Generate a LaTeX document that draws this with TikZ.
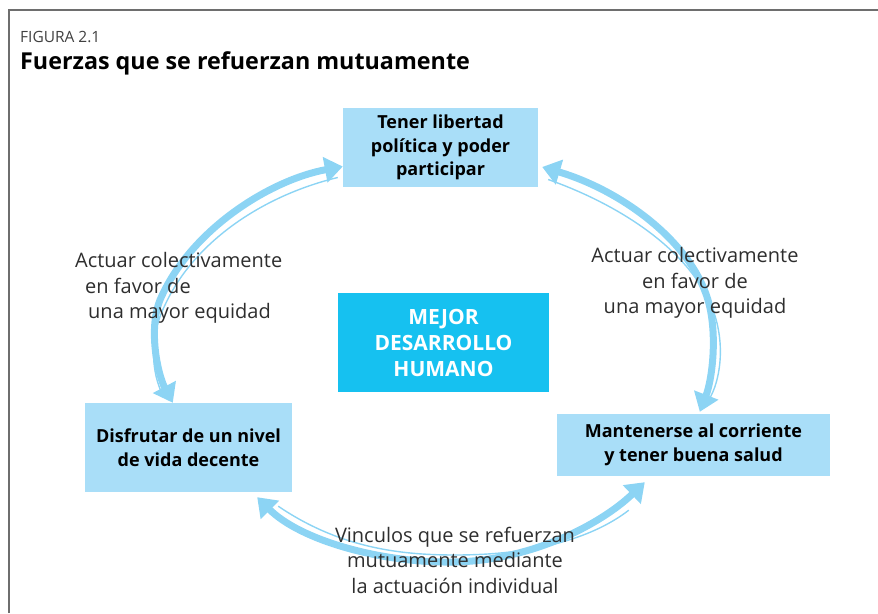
\documentclass[tikz,border=0pt]{standalone}
\usepackage{fontspec}
\setmainfont{Open Sans}
\usetikzlibrary{arrows.meta,calc}
\definecolor{boxlight}{HTML}{A9DEF8}
\definecolor{boxdark}{HTML}{16C1F0}
\definecolor{arrowc}{HTML}{8CD4F4}
\definecolor{framec}{HTML}{6E6E6E}
\definecolor{txt}{HTML}{2E2E2E}
\begin{document}
\begin{tikzpicture}[x=1pt,y=-1pt,
  lightbox/.style={fill=boxlight, draw=none, inner sep=0pt, align=center,
    font=\fontsize{18}{23.5}\selectfont\bfseries, text=black},
  darkbox/.style={fill=boxdark, draw=none, inner sep=0pt, align=center,
    font=\fontsize{21}{26}\selectfont\bfseries, text=white},
  lbl/.style={inner sep=0pt, font=\fontsize{20}{25.5}\selectfont, text=txt},
  bigarrow/.style={draw=arrowc, line width=7pt,
    {Triangle[width=25pt,length=18pt]}-{Triangle[width=25pt,length=18pt]}},
  thinline/.style={draw=arrowc, line width=1.4pt}]
\useasboundingbox (0,0) rectangle (878,613);
% frame
\coordinate (fa) at (9,613);
\coordinate (fb) at (9,10);
\coordinate (fc) at (878,10);
\draw[framec, line width=2pt] (fa) -- (fb) -- (fc);
% headings
\node[anchor=base west, inner sep=0pt, font=\fontsize{15.5}{18}\selectfont, text=black!75] (fig) at (20,42) {FIGURA 2.1};
\node[anchor=base west, inner sep=0pt, font=\fontsize{23.3}{26}\selectfont\bfseries, text=black] (title) at (20,69) {Fuerzas que se refuerzan mutuamente};
% boxes
\node[lightbox, minimum width=195pt, minimum height=79pt] (T) at (440.5,147.5) {Tener libertad\\política y poder\\participar};
\node[darkbox, minimum width=211pt, minimum height=99pt] (C) at (443.5,342.5) {MEJOR\\DESARROLLO\\HUMANO};
\node[lightbox, minimum width=207pt, minimum height=89pt] (L) at (188.5,447.5) {Disfrutar de un nivel\\de vida decente};
\node[lightbox, minimum width=273pt, minimum height=62pt] (R) at (693.5,445) {Mantenerse al corriente\\y tener buena salud};
% left arc
\draw[thinline] ($(T.west)+(-5,30)$) .. controls (265,195) and (195,240) .. (165,305) .. controls (150,335) and (151,368) .. ($(L.north west)+(76,-12)$);
\draw[bigarrow] ($(L.north west)+(88,0)$) .. controls (158,375) and (148,330) .. (160,300) .. controls (190,230) and (270,180) .. ($(T.west)+(0,19)$);
% right arc
\draw[thinline] ($(T.east)+(10,32)$) .. controls (620,205) and (690,250) .. (713,310) .. controls (726,345) and (720,382) .. ($(R.north west)+(152,-14)$);
\draw[bigarrow] ($(T.east)+(4,19.5)$) .. controls (620,190) and (690,240) .. (708,300) .. controls (718,335) and (712,380) .. ($(R.north west)+(143,-2)$);
% bottom arc
\draw[thinline] ($(L.south east)+(-14,14)$) .. controls (340,548) and (400,555) .. (455,555) .. controls (530,555) and (590,540) .. ($(R.south west)+(72,34)$);
\draw[bigarrow] ($(L.south east)+(-35,5)$) .. controls (300,540) and (380,563) .. (453,562) .. controls (530,561) and (600,525) .. ($(R.south west)+(88,6)$);
% labels
\node[lbl, align=left, anchor=west] (lab1) at (75,288) {Actuar colectivamente\\\hspace*{10pt}en favor de\\\hspace*{13pt}una mayor equidad};
\node[lbl, align=center] (lab2) at (695,283) {Actuar colectivamente\\en favor de\\una mayor equidad};
\node[lbl, align=center] (lab3) at (455,560) {Vinculos que se refuerzan\\mutuamente mediante\\la actuación individual};
\end{tikzpicture}
\end{document}
